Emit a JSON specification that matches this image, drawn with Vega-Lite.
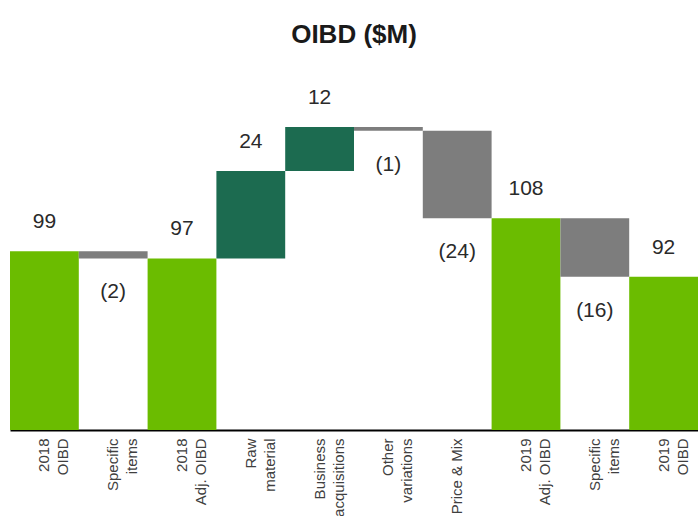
{
  "$schema": "https://vega.github.io/schema/vega-lite/v6.json",
  "width": 688,
  "height": 350,
  "autosize": "none",
  "padding": {"left": 10, "top": 80, "right": 0, "bottom": 86},
  "background": "white",
  "config": {"view": {"stroke": null}, "font": "Liberation Sans"},
  "title": {"text": "OIBD ($M)", "fontSize": 26, "fontWeight": "bold", "color": "#1a1a1a", "font": "Liberation Sans", "anchor": "middle", "offset": 32},
  "data": {"values": [
    {"step": "2018|OIBD", "lo": 0, "hi": 99, "kind": "total", "txt": "99", "sign": "pos"},
    {"step": "Specific|items", "lo": 97, "hi": 99, "kind": "decrease", "txt": "(2)", "sign": "neg"},
    {"step": "2018|Adj. OIBD", "lo": 0, "hi": 97, "kind": "total", "txt": "97", "sign": "pos"},
    {"step": "Raw|material", "lo": 97, "hi": 121, "kind": "increase", "txt": "24", "sign": "pos"},
    {"step": "Business|acquisitions", "lo": 121, "hi": 133, "kind": "increase", "txt": "12", "sign": "pos"},
    {"step": "Other|variations", "lo": 132, "hi": 133, "kind": "decrease", "txt": "(1)", "sign": "neg"},
    {"step": "Price & Mix", "lo": 108, "hi": 132, "kind": "decrease", "txt": "(24)", "sign": "neg"},
    {"step": "2019|Adj. OIBD", "lo": 0, "hi": 108, "kind": "total", "txt": "108", "sign": "pos"},
    {"step": "Specific |items", "lo": 92, "hi": 108, "kind": "decrease", "txt": "(16)", "sign": "neg"},
    {"step": "2019|OIBD", "lo": 0, "hi": 92, "kind": "total", "txt": "92", "sign": "pos"}
  ]},
  "encoding": {
    "x": {"field": "step", "type": "nominal", "sort": null,
      "scale": {"paddingInner": 0, "paddingOuter": 0},
      "axis": {"title": null, "labelAngle": -90, "labelAlign": "right", "labelBaseline": "middle",
        "labelExpr": "split(datum.label, '|')", "labelFontSize": 15, "labelLineHeight": 19,
        "labelColor": "#404040", "labelFont": "Liberation Sans", "labelPadding": 8,
        "ticks": false, "domainColor": "#000000", "domainWidth": 2, "labelLimit": 0}}
  },
  "layer": [
    {
      "mark": {"type": "bar", "clip": true},
      "encoding": {
        "y": {"field": "lo", "type": "quantitative", "scale": {"domain": [50, 145.9], "nice": false, "zero": false}, "axis": null},
        "y2": {"field": "hi"},
        "color": {"field": "kind", "type": "nominal", "legend": null,
          "scale": {"domain": ["total", "increase", "decrease"], "range": ["#6BBC00", "#1C6B50", "#7D7D7D"]}}
      }
    },
    {
      "transform": [{"filter": "datum.sign == 'pos'"}],
      "mark": {"type": "text", "fontSize": 21, "baseline": "middle", "dy": -29, "color": "#2a2a2a", "font": "Liberation Sans"},
      "encoding": {
        "y": {"field": "hi", "type": "quantitative"},
        "text": {"field": "txt"}
      }
    },
    {
      "transform": [{"filter": "datum.sign == 'neg'"}],
      "mark": {"type": "text", "fontSize": 21, "baseline": "middle", "dy": 34, "color": "#2a2a2a", "font": "Liberation Sans"},
      "encoding": {
        "y": {"field": "lo", "type": "quantitative"},
        "text": {"field": "txt"}
      }
    }
  ]
}
